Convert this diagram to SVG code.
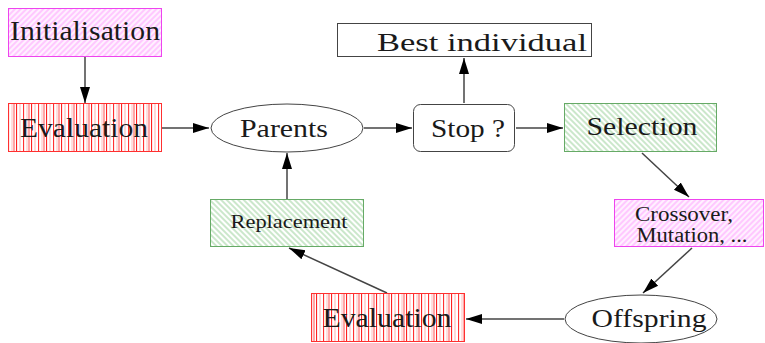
<svg xmlns="http://www.w3.org/2000/svg" width="765" height="343" viewBox="0 0 765 343">
<defs>
<pattern id="hMag" patternUnits="userSpaceOnUse" width="4" height="4" patternTransform="rotate(-45)">
<rect width="4" height="4" fill="#fff0ff"/>
<line x1="0" y1="1" x2="4" y2="1" stroke="#ffa8ff" stroke-width="1.1"/>
</pattern>
<pattern id="hGreen" patternUnits="userSpaceOnUse" width="4" height="4" patternTransform="rotate(45)">
<rect width="4" height="4" fill="#ffffff"/>
<line x1="0" y1="1" x2="4" y2="1" stroke="#a8d8a8" stroke-width="1.2"/>
</pattern>
<pattern id="hRed" patternUnits="userSpaceOnUse" width="15" height="10">
<rect width="15" height="10" fill="#ffffff"/>
<rect x="1" width="1.1" height="10" fill="#ff2020"/>
<rect x="4.5" width="1" height="10" fill="#ffb0b0"/>
<rect x="8" width="1.1" height="10" fill="#ff3030"/>
<rect x="11.5" width="1" height="10" fill="#ffc0c0"/>
<rect x="13.5" width="1" height="10" fill="#ff5050"/>
</pattern>
<marker id="ah" markerUnits="userSpaceOnUse" markerWidth="18" markerHeight="12" refX="16" refY="6" orient="auto">
<path d="M0,1 L16,6 L0,11 z" fill="#000"/>
</marker>
</defs>
<style>
text { fill: #1a1a1a; text-anchor: middle; }
.mag { fill: url(#hMag); stroke: #ee44ee; stroke-width: 1; }
.red { fill: url(#hRed); stroke: #ff3030; stroke-width: 1; }
.grn { fill: url(#hGreen); stroke: #66aa66; stroke-width: 1; }
.plain { fill: #fff; stroke: #444; stroke-width: 1; }
#edges line { stroke: #444; stroke-width: 1.5; fill: none; marker-end: url(#ah); }
</style>

<g id="edges">
<line x1="85" y1="57" x2="85" y2="103"/>
<line x1="162" y1="128" x2="209" y2="128"/>
<line x1="364" y1="128" x2="412" y2="128"/>
<line x1="464" y1="103" x2="464" y2="58"/>
<line x1="516" y1="128" x2="563" y2="128"/>
<line x1="642" y1="153" x2="689" y2="197"/>
<line x1="692" y1="248" x2="643" y2="293"/>
<line x1="564" y1="319" x2="466" y2="319"/>
<line x1="387" y1="293" x2="289" y2="248"/>
<line x1="287" y1="199" x2="287" y2="153"/>
</g>

<g id="initialisation">
<rect class="mag" x="8.5" y="8.5" width="153" height="48"/>
<text font-family="'Liberation Serif', serif" font-size="27" x="85" y="40" textLength="150" lengthAdjust="spacingAndGlyphs">Initialisation</text>
</g>
<g id="evaluation1">
<rect class="red" x="8.5" y="103.5" width="153" height="48"/>
<text font-family="'Liberation Serif', serif" font-size="27" x="84" y="137" textLength="128" lengthAdjust="spacingAndGlyphs">Evaluation</text>
</g>
<g id="parents">
<ellipse class="plain" cx="287" cy="128" rx="76" ry="24"/>
<text font-family="'Liberation Serif', serif" font-size="26" x="284" y="137" textLength="88" lengthAdjust="spacingAndGlyphs">Parents</text>
</g>
<g id="stop">
<rect class="plain" x="413.5" y="104.5" width="101" height="47" rx="7"/>
<text font-family="'Liberation Serif', serif" font-size="26" x="468" y="137" textLength="74" lengthAdjust="spacingAndGlyphs">Stop ?</text>
</g>
<g id="best">
<rect class="plain" x="337.5" y="23.5" width="254" height="33"/>
<text font-family="'Liberation Serif', serif" font-size="26" x="482" y="51" textLength="210" lengthAdjust="spacingAndGlyphs">Best individual</text>
</g>
<g id="selection">
<rect class="grn" x="564.5" y="103.5" width="152" height="48"/>
<text font-family="'Liberation Serif', serif" font-size="26" x="642" y="135" textLength="111" lengthAdjust="spacingAndGlyphs">Selection</text>
</g>
<g id="crossover">
<rect class="mag" x="614.5" y="199.5" width="149" height="47"/>
<text font-family="'Liberation Serif', serif" font-size="20" x="684" y="221" textLength="98" lengthAdjust="spacingAndGlyphs">Crossover,</text>
<text font-family="'Liberation Serif', serif" font-size="20" x="692" y="242" textLength="111" lengthAdjust="spacingAndGlyphs">Mutation, ...</text>
</g>
<g id="offspring">
<ellipse class="plain" cx="641" cy="319" rx="76" ry="24"/>
<text font-family="'Liberation Serif', serif" font-size="26" x="649" y="327" textLength="115" lengthAdjust="spacingAndGlyphs">Offspring</text>
</g>
<g id="evaluation2">
<rect class="red" x="311.5" y="293.5" width="153" height="48"/>
<text font-family="'Liberation Serif', serif" font-size="27" x="387" y="327" textLength="129" lengthAdjust="spacingAndGlyphs">Evaluation</text>
</g>
<g id="replacement">
<rect class="grn" x="210.5" y="199.5" width="153" height="47"/>
<text font-family="'Liberation Serif', serif" font-size="19" x="289" y="228" textLength="117" lengthAdjust="spacingAndGlyphs">Replacement</text>
</g>
</svg>
